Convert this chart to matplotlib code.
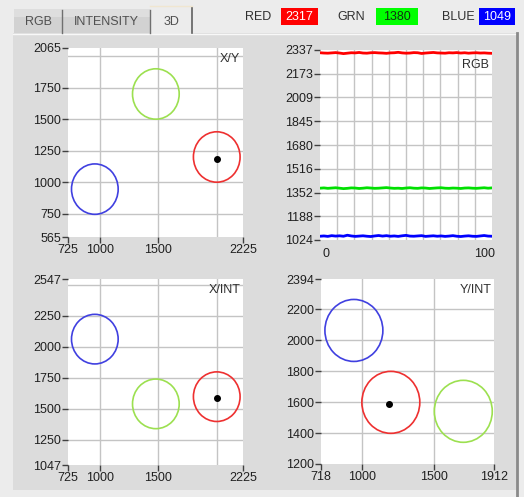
import numpy as np
import matplotlib
matplotlib.use("Agg")
from matplotlib import pyplot as plt
from matplotlib.patches import Rectangle, Ellipse

plt.rcParams['font.family'] = ['Liberation Sans', 'DejaVu Sans']

W, H = 524, 497
FS = 9

# spots: red, green, blue
spot_x = [2000, 1478, 955]
spot_y = [1200, 1700, 945]
spot_int = [1598, 1540, 2062]
spot_colors = ['#ee3030', '#9ce050', '#4040e0']
spot_r = 200
# current measurement
dot_x, dot_y, dot_int = 2000, 1185, 1588

# RGB time trace
red_vals = [2318, 2316, 2315, 2317, 2319, 2316, 2312, 2315, 2318, 2317, 2320, 2316,
            2315, 2318, 2319, 2317, 2316, 2314, 2317, 2318, 2321, 2317, 2315, 2316,
            2319, 2318, 2313, 2316, 2318, 2320, 2317, 2316, 2315, 2318, 2317, 2319,
            2316, 2318, 2315, 2317, 2318, 2316, 2317, 2315, 2314]
grn_vals = [1382, 1384, 1381, 1383, 1385, 1382, 1379, 1381, 1384, 1383, 1380, 1382,
            1385, 1383, 1381, 1382, 1384, 1386, 1383, 1381, 1382, 1380, 1383, 1385,
            1382, 1381, 1384, 1383, 1380, 1382, 1384, 1385, 1382, 1381, 1383, 1382,
            1380, 1383, 1384, 1382, 1381, 1383, 1385, 1382, 1384]
blue_vals = [1050, 1052, 1049, 1054, 1051, 1053, 1050, 1057, 1052, 1049, 1051, 1053,
             1050, 1048, 1052, 1055, 1051, 1054, 1050, 1052, 1049, 1053, 1056, 1051,
             1050, 1052, 1054, 1049, 1051, 1053, 1050, 1052, 1049, 1051, 1054, 1050,
             1048, 1051, 1053, 1050, 1049, 1052, 1055, 1051, 1050]
rgb_yticks = [1024, 1188, 1352, 1516, 1680, 1845, 2009, 2173, 2337]

readout_names = ['RED', 'GRN', 'BLUE']
readout_vals = [2317, 1380, 1049]
tab_names = ['RGB', 'INTENSITY', '3D']

fig = plt.figure(figsize=(W / 100, H / 100), dpi=100)
fig.patch.set_facecolor('#ececec')

# background layer in pixel coords
bg = fig.add_axes([0, 0, 1, 1])
bg.set_xlim(0, W)
bg.set_ylim(H, 0)
bg.axis('off')
bg.add_patch(Rectangle((13, 33), 504, 457, fc='#dcdcdc', ec='none'))
bg.plot([13, 517], [34, 34], color='#f8f8f8', lw=1)
bg.plot([517, 517], [33, H], color='#8a8a8a', lw=2)

# tabs
tab_x = [14, 62, 150]
tab_w = [48, 88, 42]
for i, (tx, tw, name) in enumerate(zip(tab_x, tab_w, tab_names)):
    if name == '3D':
        bg.add_patch(Rectangle((tx, 6), tw, 28, fc='#ececec', ec='none'))
        bg.plot([tx + tw, tx + tw], [7, 33], color='#606060', lw=1.2)
        bg.plot([tx, tx + tw], [6, 6], color='#f0e6d0', lw=1)
    else:
        bg.add_patch(Rectangle((tx, 9), tw, 24, fc='#d2d2d2', ec='none'))
        bg.add_patch(Rectangle((tx, 9), tw, 8, fc='#dedede', ec='none'))
    if i > 0:
        bg.plot([tx, tx], [10, 33], color='#707070', lw=1)
    bg.text(tx + tw / 2, 22, name, ha='center', va='center', fontsize=FS,
            color='#505050')

# readouts
name_x = [258, 351, 458]
box_x = [281, 376, 479]
box_w = [37, 42, 36]
box_fc = ['#ff0000', '#00ff00', '#0000ff']
box_tc = ['white', '#103010', 'white']
for nm, v, nx, bx, bw, fc, tc in zip(readout_names, readout_vals, name_x, box_x,
                                      box_w, box_fc, box_tc):
    bg.text(nx, 16.5, nm, ha='center', va='center', fontsize=FS, color='#303030')
    bg.add_patch(Rectangle((bx, 8), bw, 17, fc=fc, ec='none'))
    bg.text(bx + bw / 2, 16.5, str(v), ha='center', va='center', fontsize=FS,
            color=tc)


def px_axes(x0, y0, x1, y1):
    return fig.add_axes([x0 / W, 1 - y1 / H, (x1 - x0) / W, (y1 - y0) / H])


def style(ax, title, ty=0.975):
    for s in ax.spines.values():
        s.set_visible(False)
    ax.tick_params(length=4, width=1, color='#404040', labelsize=FS, pad=1,
                   labelcolor='#202020')
    ax.text(0.985, ty, title, transform=ax.transAxes, ha='right', va='top',
            fontsize=FS, color='#303030')


def spot_panel(box, xs, ys, dx, dy, xlim, ylim, xticks, yticks, xgrid, ygrid, title):
    ax = px_axes(*box)
    for gx in xgrid:
        ax.axvline(gx, color='#c4c4c4', lw=1, zorder=0)
    for gy in ygrid:
        ax.axhline(gy, color='#c4c4c4', lw=1, zorder=0)
    for cx, cy, c in zip(xs, ys, spot_colors):
        ax.add_patch(Ellipse((cx, cy), 2 * spot_r, 2 * spot_r, fill=False,
                             ec=c, lw=1.2))
    ax.plot([dx], [dy], 'o', color='black', ms=4)
    ax.set_xlim(xlim)
    ax.set_ylim(ylim)
    ax.set_xticks(xticks)
    ax.set_yticks(yticks)
    ax.tick_params(axis='x', pad=2)
    style(ax, title)
    return ax


# X/Y
spot_panel((68, 48, 243, 237), spot_x, spot_y, dot_x, dot_y,
           (725, 2225), (565, 2065),
           [725, 1000, 1500, 2225], [565, 750, 1000, 1250, 1500, 1750, 2065],
           [1000, 1500, 2000], [750, 1000, 1250, 1500, 1750, 2000], 'X/Y')

# X/INT
spot_panel((68, 279, 243, 465), spot_x, spot_int, dot_x, dot_int,
           (725, 2225), (1047, 2547),
           [725, 1000, 1500, 2225], [1047, 1250, 1500, 1750, 2000, 2250, 2547],
           [1000, 1500, 2000], [1250, 1500, 1750, 2000, 2250, 2500], 'X/INT')

# Y/INT
spot_panel((321, 279, 494, 464), spot_y, spot_int, dot_y, dot_int,
           (718, 1912), (1200, 2394),
           [718, 1000, 1500, 1912], [1200, 1400, 1600, 1800, 2000, 2200, 2394],
           [1000, 1500], [1400, 1600, 1800, 2000, 2200], 'Y/INT')

# RGB trace
ax = px_axes(320, 50, 492, 240)
xmin, xmax = -4, 105
for gx in np.linspace(xmin, xmax, 11)[1:-1]:
    ax.axvline(gx, color='#c4c4c4', lw=1, zorder=0)
for gy in rgb_yticks[1:-1]:
    ax.axhline(gy, color='#c4c4c4', lw=1, zorder=0)
t = np.linspace(xmin, xmax, len(red_vals))
ax.plot(t, red_vals, color='#ff0000', lw=2)
ax.plot(t, grn_vals, color='#00e000', lw=2)
ax.plot(t, blue_vals, color='#0000ff', lw=2)
ax.set_xlim(xmin, xmax)
ax.set_ylim(1024, 2337)
ax.set_xticks([0, 100])
ax.set_yticks(rgb_yticks)
style(ax, 'RGB', ty=0.955)
ax.tick_params(axis='x', length=0, pad=6)

fig.savefig('out.png', dpi=100, facecolor=fig.get_facecolor())
